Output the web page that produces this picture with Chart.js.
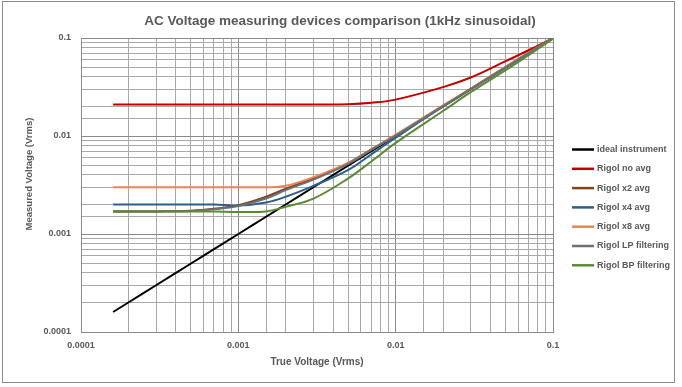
<!DOCTYPE html>
<html>
<head>
<meta charset="utf-8">
<script src="https://cdn.jsdelivr.net/npm/chart.js@4.4.1/dist/chart.umd.min.js"></script>
<style>
  body { margin: 0; background: #fff; }
  #wrap { width: 682px; height: 387px; }
</style>
</head>
<body>
<div id="wrap"><canvas id="chart" width="682" height="387"></canvas></div>
<script>
// true voltage (Vrms) at which each device was read
const trueVoltage = [0.00016, 0.0002, 0.0003, 0.0005, 0.0007, 0.001, 0.0015, 0.002, 0.003, 0.005, 0.007, 0.01, 0.02, 0.03, 0.05, 0.07, 0.1];

const ideal     = [0.00016, 0.0002, 0.0003, 0.0005, 0.0007, 0.001, 0.0015, 0.002, 0.003, 0.005, 0.007, 0.01, 0.02, 0.03, 0.05, 0.07, 0.1];
const rigolNoAvg = [0.021, 0.021, 0.021, 0.021, 0.021, 0.021, 0.021, 0.021, 0.021, 0.0211, 0.0218, 0.0235, 0.0315, 0.0395, 0.058, 0.075, 0.1];
const rigolX2   = [0.0017, 0.0017, 0.0017, 0.00173, 0.00181, 0.00197, 0.0024, 0.0029, 0.0037, 0.0053, 0.0073, 0.0102, 0.0203, 0.0303, 0.0505, 0.0705, 0.1];
const rigolX4   = [0.002, 0.002, 0.002, 0.002, 0.002, 0.00195, 0.0021, 0.0024, 0.0031, 0.0045, 0.0065, 0.0096, 0.02, 0.03, 0.05, 0.07, 0.1];
const rigolX8   = [0.003, 0.003, 0.003, 0.003, 0.003, 0.003, 0.003, 0.0031, 0.0038, 0.0053, 0.0073, 0.0103, 0.0205, 0.0305, 0.051, 0.071, 0.1];
const rigolLP   = [0.0017, 0.0017, 0.0017, 0.00172, 0.00179, 0.00193, 0.0023, 0.0028, 0.0036, 0.0052, 0.0072, 0.0101, 0.0202, 0.0302, 0.0502, 0.0702, 0.1];
const rigolBP   = [0.0017, 0.0017, 0.0017, 0.0017, 0.0017, 0.00168, 0.0017, 0.0019, 0.0023, 0.0037, 0.0055, 0.0085, 0.018, 0.028, 0.047, 0.067, 0.098];

const seriesNames  = ["ideal instrument", "Rigol no avg", "Rigol x2 avg", "Rigol x4 avg", "Rigol x8 avg", "Rigol LP filtering", "Rigol BP filtering"];
const seriesValues = [ideal, rigolNoAvg, rigolX2, rigolX4, rigolX8, rigolLP, rigolBP];
const seriesColors = ["#000000", "#C00000", "#7B4422", "#2E5E8C", "#F28058", "#6F6F6F", "#5A8A36"];

const tickLabels = ["0.0001", "0.001", "0.01", "0.1"];

const textColor = "#595959";
const fontFamily = "'Liberation Sans', Arial, sans-serif";

function isDecade(v) {
  const e = Math.log10(v);
  return Math.abs(e - Math.round(e)) < 1e-6;
}

function decadeLabel(v) {
  return isDecade(v) ? tickLabels[Math.round(Math.log10(v)) + 4] : "";
}

function gridColor(ctx) {
  return ctx.tick && isDecade(ctx.tick.value) ? "#8a8a8a" : "#a9a9a9";
}

// Excel-style frame, title, axis titles and legend
const excelDecor = {
  id: "excelDecor",
  beforeDraw(chart) {
    const c = chart.ctx;
    c.save();
    c.fillStyle = "#fff";
    c.fillRect(0, 0, chart.width, chart.height);
    c.strokeStyle = "#8c8c8c";
    c.lineWidth = 1;
    c.strokeRect(2.5, 1.5, 672, 381);
    c.restore();
  },
  afterDraw(chart) {
    const c = chart.ctx;
    const area = chart.chartArea;
    c.save();
    c.fillStyle = textColor;
    c.textBaseline = "middle";

    c.textAlign = "center";
    c.font = "bold 13.5px " + fontFamily;
    c.fillText("AC Voltage measuring devices comparison (1kHz sinusoidal)", 340, 21);

    c.font = "bold 10px " + fontFamily;
    c.fillText("True Voltage (Vrms)", (area.left + area.right) / 2, 362);

    c.save();
    c.translate(29, 174);
    c.rotate(-Math.PI / 2);
    c.font = "bold 9.5px " + fontFamily;
    c.fillText("Measured Voltage (Vrms)", 0, 0);
    c.restore();

    c.textAlign = "left";
    c.font = "bold 9px " + fontFamily;
    chart.data.datasets.forEach((ds, i) => {
      const y = 149.5 + i * 19.3;
      c.strokeStyle = ds.borderColor;
      c.lineWidth = 2.5;
      c.beginPath();
      c.moveTo(572, y);
      c.lineTo(594, y);
      c.stroke();
      c.fillText(ds.label, 597, y);
    });
    c.restore();
  }
};

const datasets = seriesNames.map((name, i) => ({
  label: name,
  data: trueVoltage.map((x, j) => ({ x, y: seriesValues[i][j] })),
  borderColor: seriesColors[i],
  backgroundColor: seriesColors[i],
  borderWidth: 2,
  pointRadius: 0,
  tension: 0.4,
  order: seriesNames.length - i
}));

const ctx = document.getElementById("chart").getContext("2d");
new Chart(ctx, {
  type: "line",
  data: { datasets },
  options: {
    responsive: false,
    animation: false,
    layout: { padding: { left: 0, right: 129, top: 38, bottom: 0 } },
    plugins: {
      legend: { display: false },
      title: { display: false },
      tooltip: { enabled: false }
    },
    scales: {
      x: {
        type: "logarithmic",
        min: 0.0001,
        max: 0.1,
        afterFit: s => { s.height = 55; },
        grid: { color: gridColor, drawTicks: false },
        border: { color: "#8a8a8a" },
        ticks: {
          autoSkip: false,
          maxRotation: 0,
          padding: 8,
          color: textColor,
          font: { family: fontFamily, size: 9, weight: "bold" },
          callback: decadeLabel
        }
      },
      y: {
        type: "logarithmic",
        min: 0.0001,
        max: 0.1,
        afterFit: s => { s.width = 81; },
        grid: { color: gridColor, drawTicks: false },
        border: { color: "#8a8a8a" },
        ticks: {
          autoSkip: false,
          padding: 10,
          color: textColor,
          font: { family: fontFamily, size: 9, weight: "bold" },
          callback: decadeLabel
        }
      }
    }
  },
  plugins: [excelDecor]
});
</script>
</body>
</html>
